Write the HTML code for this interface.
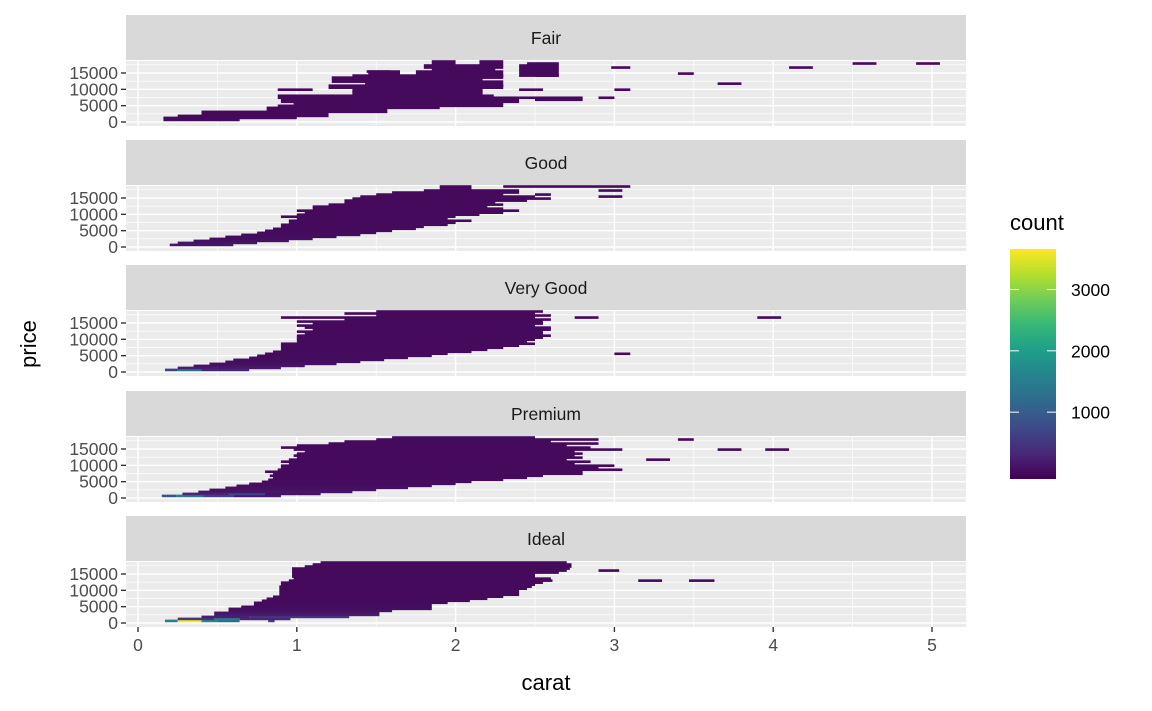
<!DOCTYPE html>
<html><head><meta charset="utf-8"><style>
html,body{margin:0;padding:0;background:#fff;}
svg{display:block;font-family:"Liberation Sans",sans-serif;}
</style></head><body>
<svg id="chart" width="1152" height="711" viewBox="0 0 1152 711"></svg>
<script>
// ---- data ----
const facets = ["Fair","Good","Very Good","Premium","Ideal"];
const xTicks = [0,1,2,3,4,5];
const yTicks = [0,5000,10000,15000];
const legendTicks = [1000,2000,3000];
// row segments: [price (k), carat from, carat to, count, optional price-to (k)]
const fairBins = [[0.3,0.16,0.64,12,1.0],[1.0,0.25,1.0,8,2.1],[2.1,0.4,1.2,6,3.2],[3.2,0.81,1.57,5,4.2],[4.2,0.88,1.9,5,5.2],[5.2,0.98,2.3,4,6.2],[6.2,0.9,2.4,3,7.2],[6.7,2.5,2.8,1],[7.2,0.88,2.24,3,8.3],[7.7,2.4,2.8,1],[7.7,2.9,3.0,1],[8.3,1.35,2.17,2,9.3],[9.8,0.88,1.1,1],[9.3,1.35,2.17,2,10.3],[9.8,2.4,2.55,1],[9.8,3.0,3.1,1],[10.3,1.2,2.3,2,11.3],[11.3,1.43,2.3,2,12.3],[11.8,3.65,3.8,1],[12.3,1.22,2.17,2,13.4],[13.4,1.35,2.3,2,14.5],[13.9,2.5,2.65,1],[14.5,1.45,1.65,1,15.4],[14.5,1.75,2.3,2,15.4],[14.5,2.4,2.65,1,15.4],[15.0,3.4,3.5,1],[15.4,1.44,1.59,1],[15.4,1.85,2.25,1,16.4],[15.9,2.4,2.65,1,17.0],[16.4,1.8,2.3,1,17.4],[16.9,2.98,3.1,1],[16.9,4.1,4.25,1],[17.6,1.85,2.0,1,18.4],[17.6,2.15,2.3,1,18.4],[17.6,2.45,2.65,1,18.2],[18.2,4.5,4.65,1],[18.0,4.9,5.05,1]];
const goodBins = [[0.6,0.2,0.6,150],[1.2,0.25,0.75,120],[1.9,0.35,0.95,80],[2.5,0.45,1.1,60],[3.1,0.55,1.25,40],[3.7,0.65,1.4,30],[4.3,0.75,1.5,20],[4.9,0.8,1.6,15],[5.5,0.85,1.75,10],[6.2,0.9,1.8,8],[6.8,0.9,1.95,6],[7.4,0.95,2.0,5],[8.0,0.95,2.1,5],[8.6,1.0,1.95,4],[9.2,0.9,2.0,4],[9.8,1.0,2.15,4],[10.5,1.05,2.3,3],[11.1,1.0,2.4,3],[11.7,1.1,2.3,3],[12.3,1.1,2.2,3],[12.9,1.2,2.3,3],[13.5,1.3,2.25,3],[14.1,1.3,2.45,2],[14.7,1.35,2.6,2],[15.3,1.4,2.5,2],[15.3,2.9,3.05,1],[16.0,1.5,2.3,2],[16.0,2.5,2.6,1],[16.6,1.6,2.4,1],[17.2,1.8,2.4,1],[17.2,2.9,3.05,1],[17.8,1.9,2.1,1],[18.4,1.9,2.1,1],[18.4,2.3,3.1,1]];
const veryGoodBins = [[0.6,0.17,0.25,600],[0.6,0.25,0.4,1300],[0.6,0.4,0.7,300],[1.2,0.25,0.5,250],[1.2,0.5,0.9,200],[1.9,0.35,1.05,120],[2.5,0.45,1.25,80],[3.1,0.55,1.4,60],[3.7,0.6,1.55,40],[4.3,0.7,1.7,30],[4.9,0.75,1.85,20],[5.5,0.8,1.95,15],[5.8,3.0,3.1,1],[6.2,0.85,2.1,12],[6.8,0.9,2.2,10],[7.4,0.9,2.3,8],[8.0,0.9,2.4,6],[8.6,0.9,2.5,6],[9.2,1.0,2.45,5],[9.8,1.0,2.5,5],[10.5,1.0,2.55,4],[11.1,1.0,2.6,4],[11.7,1.05,2.55,4],[12.3,1.0,2.55,4],[12.9,1.1,2.6,3],[13.5,1.05,2.6,3],[14.1,1.0,2.5,3],[14.7,1.1,2.55,3],[15.3,1.0,2.55,3],[16.0,1.3,2.6,2],[16.6,0.9,2.5,2],[16.6,2.75,2.9,1],[16.6,3.9,4.05,1],[17.2,1.5,2.6,2],[17.8,1.3,2.5,2],[18.4,1.5,2.55,1]];
const premiumBins = [[0.6,0.15,0.24,900],[0.6,0.24,0.41,1500],[0.6,0.41,0.6,700],[0.6,0.6,0.9,150],[1.2,0.28,0.57,300],[1.2,0.57,0.8,700],[1.2,0.8,1.15,100],[1.9,0.38,1.35,150],[2.5,0.45,1.5,100],[3.1,0.55,1.7,70],[3.7,0.62,1.85,50],[4.3,0.7,2.0,35],[4.9,0.78,2.1,25],[5.5,0.82,2.3,18],[6.2,0.85,2.45,14],[6.8,0.83,2.55,12],[7.4,0.85,2.8,10],[8.0,0.8,2.8,8],[8.6,0.88,3.05,8],[9.2,0.9,2.9,7],[9.8,0.9,3.0,6],[10.5,0.95,2.75,6],[11.1,0.9,2.85,5],[11.7,0.95,2.7,5],[11.9,3.2,3.35,1],[12.3,1.0,2.8,5],[12.9,0.98,2.75,4],[13.5,1.0,2.8,4],[14.1,1.05,2.75,4],[14.7,0.98,3.05,4],[14.7,3.65,3.8,1],[14.7,3.95,4.1,1],[15.3,0.9,2.85,3],[16.0,1.0,2.7,3],[16.6,1.2,2.9,3],[17.2,1.3,2.6,2],[17.8,1.5,2.9,2],[18.2,3.4,3.5,1],[18.4,1.6,2.5,1]];
const idealBins = [[0.6,0.17,0.25,1500],[0.6,0.25,0.4,3650],[0.6,0.4,0.5,1700],[0.6,0.5,0.64,1200],[0.6,0.82,0.86,500],[1.2,0.25,0.48,500],[1.2,0.48,0.64,1500],[1.2,0.64,0.96,300],[1.9,0.4,0.7,250],[1.9,0.7,1.33,500],[2.5,0.48,1.52,200],[3.1,0.48,1.52,120],[3.7,0.57,1.6,80],[4.3,0.57,1.85,60],[4.9,0.65,1.85,40],[5.5,0.73,1.85,30],[6.2,0.73,1.95,22],[6.8,0.78,2.09,18],[7.4,0.81,2.2,15],[8.0,0.85,2.3,12],[8.6,0.89,2.4,10],[9.2,0.89,2.4,9],[9.8,0.89,2.4,8],[10.5,0.89,2.45,7],[11.1,0.89,2.48,7],[11.7,0.9,2.5,6],[12.3,0.9,2.55,6],[12.9,0.95,2.61,5],[12.9,3.15,3.3,1],[12.9,3.47,3.63,1],[13.5,0.98,2.6,5],[14.1,0.97,2.5,4],[14.7,0.97,2.5,4],[15.3,0.97,2.65,4],[16.0,0.97,2.7,3],[16.0,2.9,3.03,1],[16.6,0.97,2.72,3],[17.2,1.05,2.73,2],[17.8,1.1,2.73,2],[18.4,1.15,2.7,1]];
const allBins = [fairBins, goodBins, veryGoodBins, premiumBins, idealBins];

// ---- geometry ----
const svg = document.getElementById('chart');
const NS = "http://www.w3.org/2000/svg";
function mk(tag, attrs, parent){const e=document.createElementNS(NS,tag);for(const k in attrs)e.setAttribute(k,attrs[k]);(parent||svg).appendChild(e);return e;}
const PX0=126, PX1=966;
const xScale = c => 138 + c*158.8;
const priceMin=0.326, priceBin=(18.823-0.326)/30;
const panelTop = [61,186,311,437,562];
const PH = 65;
function yScale(i, p){ return panelTop[i] + 61 - p*3.267; }
const vmin=-90, vmax=3660;
const stops=[[68,1,84],[72,40,120],[62,74,137],[49,104,142],[38,130,142],[31,158,137],[53,183,121],[109,205,89],[180,222,44],[253,231,37]];
function viridis(v){let t=Math.max(0,Math.min(1,(v-vmin)/(vmax-vmin)))*(stops.length-1);const i=Math.min(Math.floor(t),stops.length-2),f=t-i;const a=stops[i],b=stops[i+1];return `rgb(${Math.round(a[0]+(b[0]-a[0])*f)},${Math.round(a[1]+(b[1]-a[1])*f)},${Math.round(a[2]+(b[2]-a[2])*f)})`;}
const rowOf = p => Math.max(0,Math.min(29,Math.floor((p-priceMin)/priceBin)));

facets.forEach((name,i)=>{
  const top=panelTop[i];
  const strip = mk('rect',{x:PX0,y:top-46,width:PX1-PX0,height:45,fill:'#d9d9d9'});
  
  
  const st = mk('text',{x:(PX0+PX1)/2,y:top-17,'text-anchor':'middle','font-size':'17.5',fill:'#1a1a1a'});
  st.textContent=name;
  
  
  const bg = mk('rect',{x:PX0,y:top,width:PX1-PX0,height:PH,fill:'#ebebeb'});
  
  
  for(let c=0.5;c<5.3;c+=1) mk('line',{x1:xScale(c),x2:xScale(c),y1:top,y2:top+PH,stroke:'#fff','stroke-width':0.7});
  for(let p=2.5;p<19;p+=5) mk('line',{x1:PX0,x2:PX1,y1:yScale(i,p),y2:yScale(i,p),stroke:'#fff','stroke-width':0.7});
  xTicks.forEach(t=>mk('line',{x1:xScale(t),x2:xScale(t),y1:top,y2:top+PH,stroke:'#fff','stroke-width':1.4}));
  yTicks.forEach(t=>{
    const y=yScale(i,t/1000);
    mk('line',{x1:PX0,x2:PX1,y1:y,y2:y,stroke:'#fff','stroke-width':1.4});
    mk('line',{x1:PX0-5,x2:PX0,y1:y,y2:y,stroke:'#333','stroke-width':1.4});
    const tl=mk('text',{x:PX0-8,y:y+6,'text-anchor':'end','font-size':'17.5',fill:'#4d4d4d'});
    tl.textContent=String(t);
    
    
  });
  allBins[i].forEach(b=>{
    const [p,lo,hi,cnt,pTo]=b;
    const r0=rowOf(p), r1=pTo!==undefined?rowOf(pTo):r0;
    const yb=yScale(i,priceMin+r0*priceBin), yt=yScale(i,priceMin+(r1+1)*priceBin);
    const rect=mk('rect',{x:xScale(lo),y:yt-0.3,width:xScale(hi)-xScale(lo),height:yb-yt+0.6,fill:viridis(cnt)});
    
    
  });
});
const bottom = panelTop[4]+PH;
xTicks.forEach(t=>{
  mk('line',{x1:xScale(t),x2:xScale(t),y1:bottom,y2:bottom+5,stroke:'#333','stroke-width':1.4});
  const tl=mk('text',{x:xScale(t),y:bottom+24,'text-anchor':'middle','font-size':'17.5',fill:'#4d4d4d'});
  tl.textContent=String(t);
  
  
});
const xt=mk('text',{x:546,y:690,'text-anchor':'middle','font-size':'22',fill:'#000'});
xt.textContent='carat';


const yt=mk('text',{x:0,y:0,'text-anchor':'middle','font-size':'22',fill:'#000',transform:'translate(36,344) rotate(-90)'});
yt.textContent='price';


const lt=mk('text',{x:1010,y:230,'font-size':'22',fill:'#000'});
lt.textContent='count';


const defs=mk('defs',{});
const grad=mk('linearGradient',{id:'vg',x1:0,y1:1,x2:0,y2:0},defs);
stops.forEach((s,k)=>mk('stop',{offset:k/(stops.length-1),'stop-color':`rgb(${s[0]},${s[1]},${s[2]})`},grad));
const lb=mk('rect',{x:1010,y:249,width:46,height:230,fill:'url(#vg)'});


legendTicks.forEach(v=>{
  const y=479-(v-vmin)/(vmax-vmin)*230;
  mk('line',{x1:1010,x2:1019,y1:y,y2:y,stroke:'#fff','stroke-width':1});
  mk('line',{x1:1047,x2:1056,y1:y,y2:y,stroke:'#fff','stroke-width':1});
  const t=mk('text',{x:1071,y:y+6.5,'font-size':'17.5',fill:'#000'});
  t.textContent=String(v);
  
  
});
</script>
</body></html>
